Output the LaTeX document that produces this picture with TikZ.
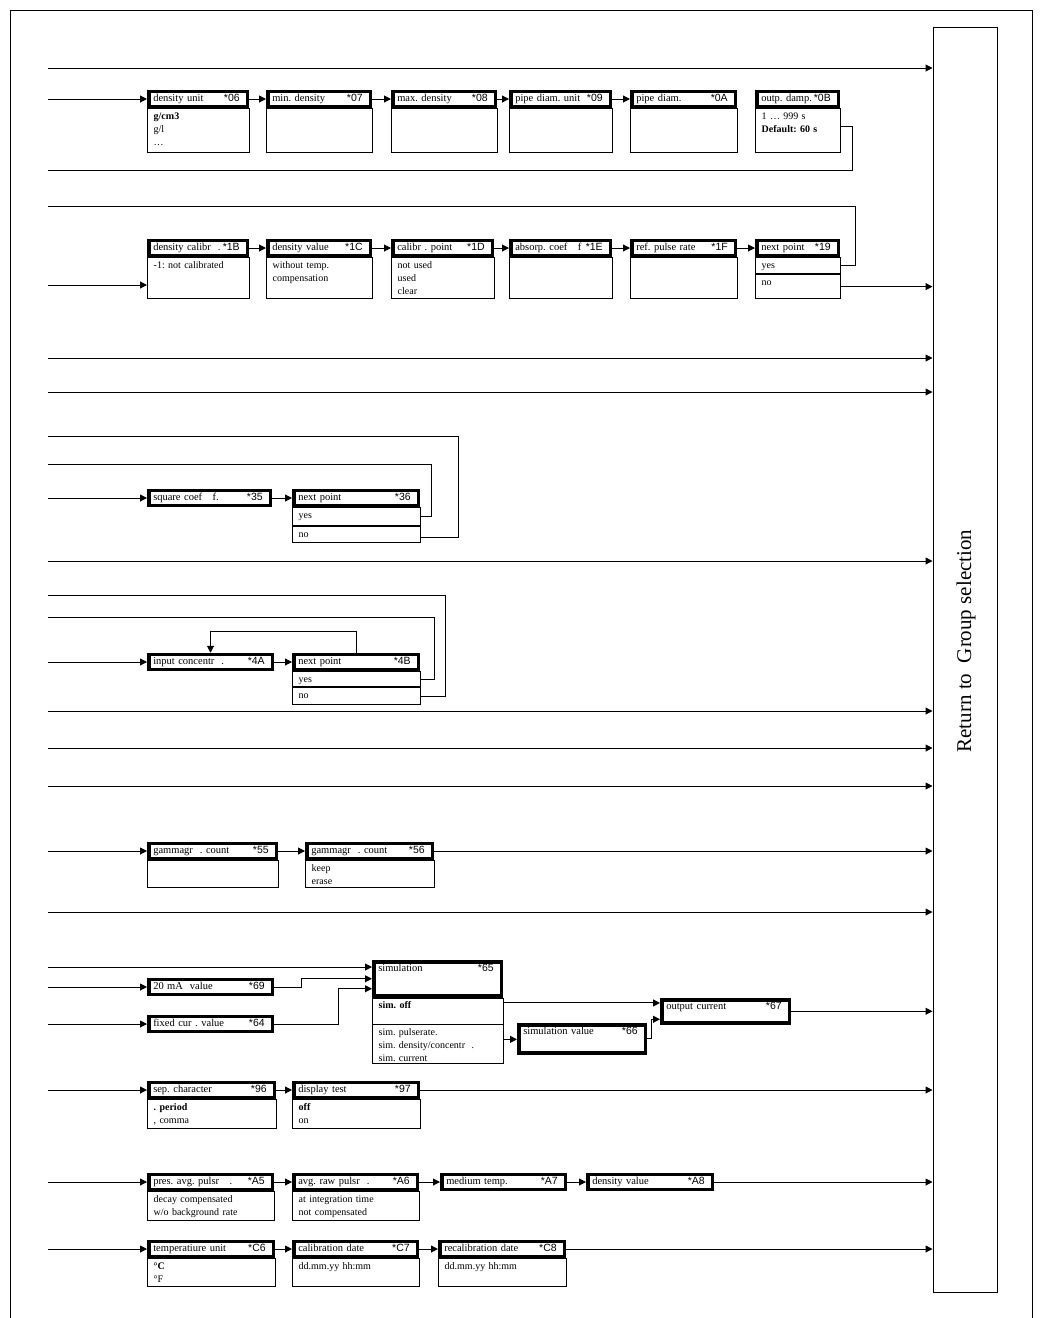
\documentclass[tikz,border=0pt]{standalone}
\usepackage{fontspec}
\setmainfont{Liberation Serif}
\setsansfont{Liberation Sans}
\usetikzlibrary{arrows.meta}
\frenchspacing
\newcommand\parcode[1]{\nobreak\hspace{0pt plus 1filll}\textsf{#1}\kern3pt}
\tikzset{
  hdr/.style = {draw, line width=3.5pt, anchor=west, inner xsep=4.5pt, inner ysep=0pt,
    minimum height=15pt, text width=#1pt, align=left, text height=7pt, text depth=2pt,
    font=\fontsize{10.5}{12}\selectfont},% kopfzeile, dicker rahmen
  body/.style = {draw, line width=0.9pt, anchor=north west, inner xsep=6.25pt,
    inner ysep=1.5pt, text width=#1pt, align=left, text height=9pt, text depth=32pt,
    font=\fontsize{10}{13}\selectfont},% auswahlfeld
  arr/.style = {line width=1pt, -{Triangle[length=7pt, width=7pt]}},
  wire/.style = {line width=1pt}
}
\begin{document}
\begin{tikzpicture}[x=1pt, y=-1pt]
  \useasboundingbox (0,0) rectangle (1043,1318);
  \fill[white] (0,0) rectangle (1043,1318);
  \draw[wire] (10,1318) -- (10,10) -- (1032,10) -- (1032,1318);
  \node[draw, line width=1pt, minimum width=64pt, minimum height=1265pt] (ret) at (965,659.5) {};
  \node[rotate=90, font=\fontsize{21}{24}\selectfont] (rettxt) at (966,641) {Return to~ Group selection};

  % zeile 1
  \node[hdr=89.5] (u06) at (147,99) {density unit\parcode{*06}};
  \node[body=89.5] (b06) at (u06.south west) {\textbf{g/cm3}\\g/l\\…};
  \node[hdr=93.5] (u07) at (266,99) {min. density\parcode{*07}};
  \node[body=93.5] (b07) at (u07.south west) {};
  \node[hdr=93.5] (u08) at (391,99) {max. density\parcode{*08}};
  \node[body=93.5] (b08) at (u08.south west) {};
  \node[hdr=90.5] (u09) at (509,99) {pipe diam. unit\parcode{*09}};
  \node[body=90.5] (b09) at (u09.south west) {};
  \node[hdr=94.5] (u0A) at (630,99) {pipe diam.\parcode{*0A}};
  \node[body=94.5] (b0A) at (u0A.south west) {};
  \node[hdr=72.5] (u0B) at (755,99) {outp. damp.\parcode{*0B}};
  \node[body=72.5] (b0B) at (u0B.south west) {1 … 999 s\\\textbf{Default: 60 s}};

  % zeile 2
  \node[hdr=89.5] (u1B) at (147,248) {density calibr~ .\parcode{*1B}};
  \node[body=89.5, text depth=29pt] (b1B) at (u1B.south west) {-1: not calibrated};
  \node[hdr=93.5] (u1C) at (266,248) {density value\parcode{*1C}};
  \node[body=93.5, text depth=29pt] (b1C) at (u1C.south west) {without temp.\\compensation};
  \node[hdr=90.5] (u1D) at (391,248) {calibr . point\parcode{*1D}};
  \node[body=90.5, text depth=29pt] (b1D) at (u1D.south west) {not used\\used\\clear};
  \node[hdr=90.5] (u1E) at (509,248) {absorp. coef~~ f\parcode{*1E}};
  \node[body=90.5, text depth=29pt] (b1E) at (u1E.south west) {};
  \node[hdr=94.5] (u1F) at (630,248) {ref. pulse rate\parcode{*1F}};
  \node[body=94.5, text depth=29pt] (b1F) at (u1F.south west) {};
  \node[hdr=72.5] (u19) at (755,248) {next point\parcode{*19}};
  \node[body=72.5, text depth=4pt] (yes19) at (u19.south west) {yes};
  \node[body=72.5, text depth=12pt] (no19) at (yes19.south west) {no};

  % square coef.
  \node[hdr=112.5] (u35) at (147,498) {square coef~~ f.\parcode{*35}};
  \node[hdr=115.5] (u36) at (292,498) {next point\parcode{*36}};
  \node[body=115.5, text depth=6pt] (yes36) at (u36.south west) {yes};
  \node[body=115.5, text depth=4pt] (no36) at (yes36.south west) {no};

  % input concentr.
  \node[hdr=114.5] (u4A) at (147,662) {input concentr~ .\parcode{*4A}};
  \node[hdr=115.5] (u4B) at (292,662) {next point\parcode{*4B}};
  \node[body=115.5, text depth=3pt] (yes4B) at (u4B.south west) {yes};
  \node[body=115.5, text depth=5pt] (no4B) at (yes4B.south west) {no};

  % gammagr. count
  \node[hdr=118.5] (u55) at (147,851) {gammagr~ . count\parcode{*55}};
  \node[body=118.5, text depth=15pt] (b55) at (u55.south west) {};
  \node[hdr=116.5] (u56) at (305,851) {gammagr~ . count\parcode{*56}};
  \node[body=116.5, text depth=15pt] (b56) at (u56.south west) {keep\\erase};

  % simulation
  \node[hdr=114.5] (u69) at (147,987) {20 mA~ value\parcode{*69}};
  \node[hdr=114.5] (u64) at (147,1024) {fixed cur . value\parcode{*64}};
  \node[hdr=118.5, anchor=north west, text height=10pt, text depth=24pt] (sim) at (372,960) {simulation\parcode{*65}};
  \node[body=118.5, text depth=14pt] (simoff) at (sim.south west) {\textbf{sim. off}};
  \node[body=118.5, text depth=27pt] (simopt) at (simoff.south west) {sim. pulserate.\\sim. density/concentr~ .\\sim. current};
  \node[hdr=117.5, anchor=north west, text height=10pt, text depth=18pt] (u66) at (517,1023) {simulation value\parcode{*66}};
  \node[hdr=118.5, anchor=north west, text height=10pt, text depth=13pt] (u67) at (660,998) {output current\parcode{*67}};

  % anzeige
  \node[hdr=116.5] (u96) at (147,1090) {sep. character\parcode{*96}};
  \node[body=116.5, text depth=17pt] (b96) at (u96.south west) {\textbf{. period}\\, comma};
  \node[hdr=115.5] (u97) at (292,1090) {display test\parcode{*97}};
  \node[body=115.5, text depth=17pt] (b97) at (u97.south west) {\textbf{off}\\on};

  % messwerte
  \node[hdr=114.5] (uA5) at (147,1182) {pres. avg. pulsr~~ .\parcode{*A5}};
  \node[body=114.5, text depth=17pt] (bA5) at (uA5.south west) {decay compensated\\w/o background rate};
  \node[hdr=114.5] (uA6) at (292,1182) {avg. raw pulsr~ .\parcode{*A6}};
  \node[body=114.5, text depth=17pt] (bA6) at (uA6.south west) {at integration time\\not compensated};
  \node[hdr=114.5] (uA7) at (440,1182) {medium temp.\parcode{*A7}};
  \node[hdr=115.5] (uA8) at (586,1182) {density value\parcode{*A8}};

  % einheiten, datum
  \node[hdr=115.5] (uC6) at (147,1249) {temperatiure unit\parcode{*C6}};
  \node[body=115.5, text depth=16pt] (bC6) at (uC6.south west) {\textbf{°C}\\°F};
  \node[hdr=114.5] (uC7) at (292,1249) {calibration date\parcode{*C7}};
  \node[body=114.5, text depth=16pt] (bC7) at (uC7.south west) {dd.mm.yy hh:mm};
  \node[hdr=115.5] (uC8) at (438,1249) {recalibration date\parcode{*C8}};
  \node[body=115.5, text depth=16pt] (bC8) at (uC8.south west) {dd.mm.yy hh:mm};

  % linke enden
  \foreach \n/\y in {06/99, 0B/170, 19/206, 1B/285, 36a/436, 36b/464, 35/498, 4Ba/595,
      4Bb/617, 4A/662, 55/851, sim/967, 69/987, 64/1024, 96/1090, A5/1182, C6/1249}
    \coordinate (l\n) at (48,\y);
  \foreach \y in {68,358,392,561,711,748,786,912}{
    \coordinate (l\y) at (48,\y);
    \draw[arr] (l\y) -- (l\y -| ret.west);
  }

  % verbindungen
  \foreach \n in {06,35,4A,55,69,64,96,A5,C6}
    \draw[arr] (l\n) -- (u\n.west);
  \foreach \a/\b in {06/07,07/08,08/09,09/0A,1B/1C,1C/1D,1D/1E,1E/1F,1F/19,35/36,
      4A/4B,55/56,96/97,A5/A6,A6/A7,A7/A8,C6/C7,C7/C8}
    \draw[arr] (u\a.east) -- (u\b.west);
  \foreach \n in {56,97,A8,C8,67}
    \draw[arr] (u\n.east) -- (u\n.east -| ret.west);
  \draw[arr] (no19.east) -- (no19.east -| ret.west);
  \draw[arr] (l1B) -- (l1B -| b1B.west);

  % schleifen
  \draw[wire] ([yshift=4pt]b0B.east) -| (852,170) -- (l0B);
  \draw[wire] (l19) -- (855,206) |- (yes19.east);
  \draw[wire] (l36a) -- (458,436) |- ([yshift=-3pt]no36.east);
  \draw[wire] (l36b) -- (431,464) |- (yes36.east);
  \draw[wire] (l4Ba) -- (445,595) |- (no4B.east);
  \draw[wire] (l4Bb) -- (434,617) |- (yes4B.east);
  \draw[arr] (u4B.north) -- ++(0,-21) -| (u4A.north);

  % simulation
  \draw[arr] (lsim) -- (lsim -| sim.west);
  \draw[arr] (u69.east) -- ++(27,0) |- (sim.west);
  \draw[arr] (u64.east) -- ++(64,0) |- ([yshift=-10pt]sim.west);
  \coordinate (s1) at ([yshift=8pt]simoff.east);
  \coordinate (s2) at ([yshift=5pt]simopt.east);
  \draw[arr] (s1) -- (s1 -| u67.west);
  \draw[arr] (s2) -- (s2 -| u66.west);
  \draw[arr] (u66.east) -- ++(4,0) |- ([yshift=-8pt]u67.west);
\end{tikzpicture}
\end{document}
